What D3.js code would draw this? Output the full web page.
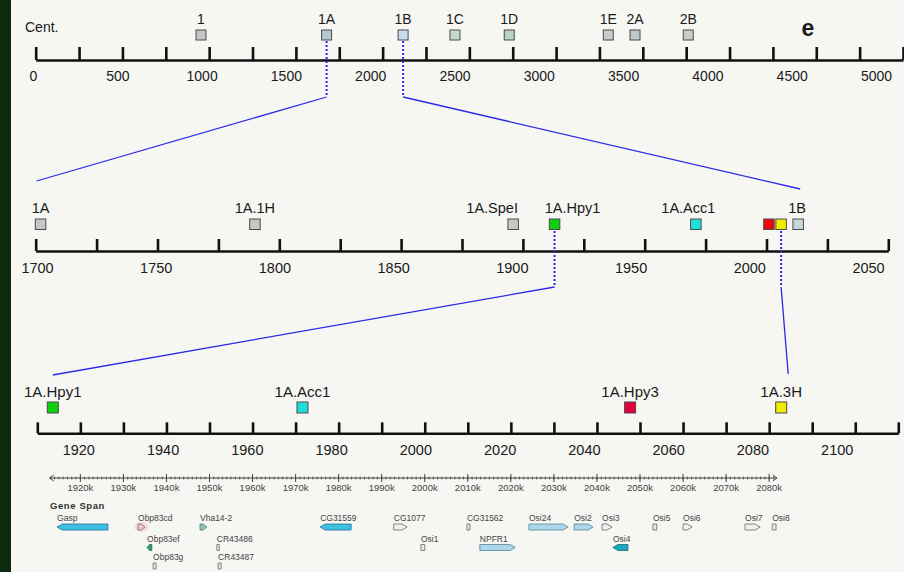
<!DOCTYPE html>
<html>
<head>
<meta charset="utf-8">
<script src="https://cdn.jsdelivr.net/npm/d3@7"></script>
<style>
  html, body { margin: 0; padding: 0; background: #f6f6f3; }
  svg { display: block; }
  text { font-family: "Liberation Sans", Arial, Helvetica, sans-serif; }
</style>
</head>
<body>
<svg id="chart" width="904" height="572"></svg>
<script>
// ---- Level 1: whole arm (cM scale) ----
const topTicks = d3.range(0, 5001, 250);
const topTickLabels = d3.range(0, 5001, 500);
const topNames = ["1", "1A", "1B", "1C", "1D", "1E", "2A", "2B"];
const topPos = [953, 1677, 2118, 2417, 2730, 3301, 3455, 3762];
const topFills = ["#c4c6c6", "#b4c8d0", "#c6dcec", "#c4dccc", "#b8d4c6", "#c6caca", "#bccacc", "#c8ccc8"];

// ---- Level 2: interval 1A – 1B ----
const midTicks = d3.range(1700, 2051, 25);
const midTickLabels = d3.range(1700, 2051, 50);
const midNames = ["1A", "1A.1H", "1A.SpeI", "1A.Hpy1", "1A.Acc1", "", "", "1B"];
const midPos = [1702, 1790, 1896, 1913, 1971, 2001, 2006, 2013];
const midKinds = ["grey", "grey", "grey", "green", "cyan", "red", "yellow", "bluegrey"];

// ---- Level 3: interval 1A.Hpy1 – 1A.3H ----
const lowTicks = d3.range(1910, 2111, 10);
const lowTickLabels = d3.range(1920, 2101, 20);
const lowNames = ["1A.Hpy1", "1A.Acc1", "1A.Hpy3", "1A.3H"];
const lowPos = [1913.6, 1971.6, 2047.7, 2082.8];
const lowKinds = ["green", "cyan", "crimson", "yellow"];

// ---- Gene span track (kb) ----
const rulerRange = [1912.9, 2081.8];
const rulerMajor = d3.range(1920, 2081, 10);
const geneNames  = ["Gasp", "Obp83cd", "Obp83ef", "Obp83g", "Vha14-2", "CR43486", "CR43487",
                    "CG31559", "CG1077", "Osi1", "CG31562", "NPFR1", "Osi24", "Osi2",
                    "Osi3", "Osi4", "Osi5", "Osi6", "Osi7", "Osi8"];
const geneStart  = [1914.6, 1933.4, 1935.5, 1936.9, 1947.8, 1951.7, 1952.0,
                    1975.7, 1992.8, 1999.1, 2009.8, 2012.8, 2024.2, 2034.7,
                    2041.2, 2043.7, 2053.0, 2060.0, 2074.4, 2080.7];
const geneEnd    = [1926.4, 1935.0, 1936.6, 1937.6, 1949.4, 1952.2, 1952.7,
                    1982.9, 1995.9, 2000.0, 2010.5, 2021.0, 2033.3, 2039.1,
                    2043.5, 2047.2, 2053.9, 2062.1, 2077.9, 2081.6];
const geneStrand = [-1, 1, -1, 0, 1, 0, 0, -1, 1, 0, 0, 1, 1, 1, 1, -1, 0, 1, 1, 0];
const geneRow    = [0, 0, 1, 2, 0, 1, 2, 0, 0, 1, 0, 1, 0, 0, 0, 1, 0, 0, 0, 0];
const geneGroup  = ["cds", "odor", "obpG", "small", "vha", "small", "small",
                    "cds", "pale", "small", "small", "light", "light", "light",
                    "pale", "teal", "small", "pale", "pale", "small"];

// ---------------------------------------------------------------
const svg = d3.select("#chart");
const W = 904, H = 572;

svg.append("rect").attr("width", W).attr("height", H).attr("fill", "#f6f6f3");
svg.append("rect").attr("width", 11).attr("height", H).attr("fill", "#0b2a0e");

const markerFill = {
  grey: "#c6c8c8", bluegrey: "#c4d8dc", green: "#0fd00f", cyan: "#1ee0d8",
  red: "#ee0a0a", crimson: "#e4003c", yellow: "#f2ec00"
};

// tick marks and their labels sit on slightly different scales in this layout
const xTop = d3.scaleLinear().domain([0, 5000]).range([35.7, 903]);
const xTopLab = d3.scaleLinear().domain([0, 5000]).range([33, 876]);
const xMid = d3.scaleLinear().domain([1700, 2050]).range([35.7, 888.3]);
const xMidLab = d3.scaleLinear().domain([1700, 2050]).range([37, 868]);
const xLow = d3.scaleLinear().domain([1910, 2110]).range([37.3, 898.3]);
const xLowLab = d3.scaleLinear().domain([1920, 2100]).range([78.3, 836.7]);

function drawAxis(y, tickScale, labScale, ticks, labels, tickLen, pad, fs) {
  const gt = svg.append("g").attr("transform", `translate(0,${y})`)
    .call(d3.axisTop(tickScale).tickValues(ticks).tickSize(tickLen).tickSizeOuter(0).tickFormat(""));
  gt.select(".domain").attr("stroke", "#111").attr("stroke-width", 2.6);
  gt.selectAll(".tick line").attr("stroke", "#111").attr("stroke-width", 2.6);
  const gl = svg.append("g").attr("transform", `translate(0,${y})`)
    .call(d3.axisBottom(labScale).tickValues(labels).tickSize(0).tickPadding(pad).tickFormat(d3.format("d")));
  gl.select(".domain").remove();
  gl.selectAll("text").attr("font-size", fs).attr("fill", "#1a1a1a")
    .attr("font-family", '"Liberation Sans", Arial, sans-serif');
}

function drawMarkers(scale, names, pos, fills, yTop, size, labelY, fontSize, labelShift) {
  const g = svg.append("g");
  g.selectAll("rect").data(pos).join("rect")
    .attr("x", d => scale(d) - size / 2).attr("y", yTop)
    .attr("width", size).attr("height", size)
    .attr("fill", (d, i) => fills[i]).attr("stroke", "#4a4a4a").attr("stroke-width", 1);
  g.selectAll("text").data(names).join("text")
    .attr("x", (d, i) => scale(pos[i]) + (labelShift[d] || 0))
    .attr("y", labelY).attr("text-anchor", "middle")
    .attr("font-size", fontSize).attr("fill", "#1a1a1a").text(d => d);
}

// ---- level 1 ----
drawAxis(60, xTop, xTopLab, topTicks, topTickLabels, 13, 11, 14);
svg.append("text").attr("x", 25).attr("y", 32).attr("font-size", 14).attr("fill", "#1a1a1a").text("Cent.");
svg.append("text").attr("x", 808).attr("y", 36).attr("text-anchor", "middle")
  .attr("font-size", 23).attr("font-weight", "bold").attr("fill", "#1a1a1a").text("e");
drawMarkers(xTop, topNames, topPos, topFills, 30, 10, 24, 14, {});

// ---- level 2 ----
drawAxis(251, xMid, xMidLab, midTicks, midTickLabels, 12, 11.5, 14.5);
drawMarkers(xMid, midNames, midPos, midKinds.map(k => markerFill[k]), 219, 10.5, 213, 14.5,
  {"1A.SpeI": -21, "1A.Hpy1": 18, "1A.Acc1": -7.5, "1B": -1});

// ---- level 3 ----
drawAxis(433.3, xLow, xLowLab, lowTicks, lowTickLabels, 11, 11, 14.5);
drawMarkers(xLow, lowNames, lowPos, lowKinds.map(k => markerFill[k]), 402, 11, 397, 15, {});

// ---- zoom connectors ----
const blue = "#2a2ae8";
function dotted(x, y0, y1) {
  svg.append("line").attr("x1", x).attr("x2", x).attr("y1", y0).attr("y2", y1)
    .attr("stroke", blue).attr("stroke-width", 2).attr("stroke-dasharray", "2,2");
}
function solid(x0, y0, x1, y1) {
  svg.append("line").attr("x1", x0).attr("y1", y0).attr("x2", x1).attr("y2", y1)
    .attr("stroke", blue).attr("stroke-width", 1.3);
}
const p1A = xTop(topPos[1]), p1B = xTop(topPos[2]);
dotted(p1A, 41, 97); dotted(p1B, 41, 97);
solid(p1A, 97, xMid(midPos[0]) - 4, 181);
solid(p1B, 97, xMid(midPos[7]) + 2, 189);
const pH = xMid(midPos[3]), pY = xMid(midPos[6]);
dotted(pH, 231, 287); dotted(pY, 231, 287);
solid(pH, 287, xLow(lowPos[0]), 375);
solid(pY, 287, xLow(lowPos[3]) + 7, 374);

// ---- gene span ruler ----
const rulerY = 478;
const rg = svg.append("g").attr("stroke", "#444").attr("fill", "none");
rg.append("line").attr("x1", xLow(rulerRange[0])).attr("x2", xLow(rulerRange[1]))
  .attr("y1", rulerY).attr("y2", rulerY).attr("stroke-width", 1);
rg.selectAll("line.minor").data(d3.range(1913, 2082, 1)).join("line").attr("class", "minor")
  .attr("x1", d => xLow(d)).attr("x2", d => xLow(d))
  .attr("y1", rulerY - 1.5).attr("y2", rulerY + 1.5).attr("stroke-width", 0.8);
rg.selectAll("line.major").data(rulerMajor).join("line").attr("class", "major")
  .attr("x1", d => xLow(d)).attr("x2", d => xLow(d))
  .attr("y1", rulerY - 4).attr("y2", rulerY + 4).attr("stroke-width", 1);
const rx0 = xLow(rulerRange[0]), rx1 = xLow(rulerRange[1]);
rg.append("path").attr("d", `M${rx0 + 4},${rulerY - 3}L${rx0},${rulerY}L${rx0 + 4},${rulerY + 3}`);
rg.append("path").attr("d", `M${rx1 - 4},${rulerY - 3}L${rx1},${rulerY}L${rx1 - 4},${rulerY + 3}`);
svg.append("g").selectAll("text").data(rulerMajor).join("text")
  .attr("x", d => xLow(d)).attr("y", 491).attr("text-anchor", "middle")
  .attr("font-size", 9.5).attr("fill", "#444").text(d => d + "k");

svg.append("text").attr("x", 50).attr("y", 509).attr("font-size", 9.5).attr("font-weight", "bold")
  .attr("letter-spacing", 0.6).attr("fill", "#333").text("Gene Span");

// ---- genes ----
const rowTop = [524, 544.5, 563];
const geneH = 6;
const geneStyle = {
  cds:   { fill: "#3fc0e2", stroke: "#1d6f92" },
  teal:  { fill: "#1aa8bc", stroke: "#156a7a" },
  light: { fill: "#acd6ea", stroke: "#55849a" },
  pale:  { fill: "#eef2f2", stroke: "#6a6a6a" },
  odor:  { fill: "#f2c6cc", stroke: "#707070" },
  obpG:  { fill: "#2f9e62", stroke: "#1e6a40" },
  vha:   { fill: "#8cc4bc", stroke: "#507a74" },
  small: { fill: "#e4e8e8", stroke: "#6a6a6a" }
};

function genePath(x0, x1, y, h, strand) {
  const w = Math.max(x1 - x0, 2.5);
  x1 = x0 + w;
  const head = Math.min(5, w * 0.55);
  if (strand > 0) return `M${x0},${y}H${x1 - head}L${x1},${y + h / 2}L${x1 - head},${y + h}H${x0}Z`;
  if (strand < 0) return `M${x1},${y}H${x0 + head}L${x0},${y + h / 2}L${x0 + head},${y + h}H${x1}Z`;
  return `M${x0},${y}H${x1}V${y + h}H${x0}Z`;
}

const genes = geneNames.map((n, i) => ({
  name: n, x0: xLow(geneStart[i]), x1: xLow(geneEnd[i]),
  strand: geneStrand[i], row: geneRow[i], group: geneGroup[i]
}));

// faint halo behind the highlighted odorant-binding gene
svg.append("g").selectAll("ellipse").data(genes.filter(g => g.group === "odor")).join("ellipse")
  .attr("cx", d => (d.x0 + d.x1) / 2).attr("cy", d => rowTop[d.row] + geneH / 2)
  .attr("rx", 7).attr("ry", 5).attr("fill", "#f6d2d8").attr("opacity", 0.8);

const gg = svg.append("g");
gg.selectAll("path").data(genes).join("path")
  .attr("d", d => genePath(d.x0, d.x1, rowTop[d.row], geneH, d.strand))
  .attr("fill", d => geneStyle[d.group].fill)
  .attr("stroke", d => geneStyle[d.group].stroke).attr("stroke-width", 0.8);
gg.selectAll("text").data(genes).join("text")
  .attr("x", d => d.x0).attr("y", d => rowTop[d.row] - 3)
  .attr("font-size", 8.5).attr("fill", "#444").text(d => d.name);
</script>
</body>
</html>
